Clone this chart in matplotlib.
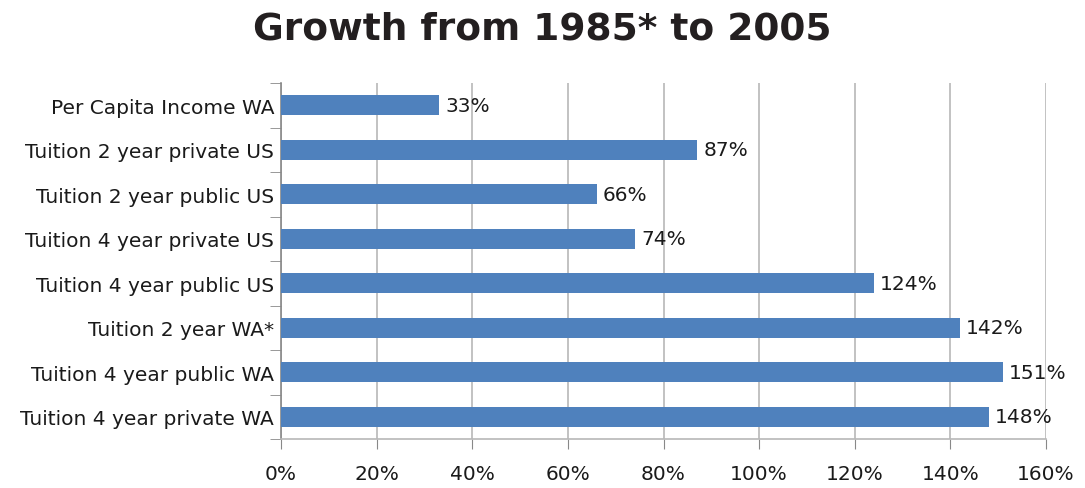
import matplotlib.pyplot as plt
from matplotlib.ticker import FuncFormatter

categories = [
    'Per Capita Income WA',
    'Tuition 2 year private US',
    'Tuition 2 year public US',
    'Tuition 4 year private US',
    'Tuition 4 year public US',
    'Tuition 2 year WA*',
    'Tuition 4 year public WA',
    'Tuition 4 year private WA',
]
growth = [33, 87, 66, 74, 124, 142, 151, 148]
xticks = [0, 20, 40, 60, 80, 100, 120, 140, 160]

fig = plt.figure(figsize=(10.85, 4.89), dpi=100)
ax = fig.add_axes([281 / 1085, 1 - 440 / 489, (1046 - 281) / 1085, (440 - 84) / 489])

# first category at the top
ypos = list(range(len(categories)))[::-1]
ax.barh(ypos, growth, height=0.45, color='#4f81bd', zorder=3)
for y, v in zip(ypos, growth):
    ax.text(v + 1.3, y, f'{v}%', va='center', ha='left', fontsize=14.5,
            color='#1a1a1a', zorder=4)

ax.set_xlim(0, 160)
ax.set_ylim(-0.5, len(categories) - 0.5)
ax.set_xticks(xticks)
ax.xaxis.set_major_formatter(FuncFormatter(lambda v, p: f'{v:.0f}%'))
ax.set_yticks(ypos)
ax.set_yticklabels(categories)
ax.set_yticks([y + 0.5 for y in range(-1, len(categories))], minor=True)
ax.tick_params(axis='y', which='major', length=0, labelsize=14.5, pad=5, labelcolor='#1a1a1a')
ax.tick_params(axis='y', which='minor', length=8, color='#888888')
ax.tick_params(axis='x', length=7, color='#888888', labelsize=14.5, pad=11, labelcolor='#1a1a1a')

ax.grid(axis='x', color='#b8b8b8', linewidth=1.2, zorder=0)
for side in ['top', 'right']:
    ax.spines[side].set_visible(False)
ax.spines['left'].set_color('#888888')
ax.spines['bottom'].set_color('#b8b8b8')
ax.spines['left'].set_linewidth(1.2)
ax.spines['bottom'].set_linewidth(1.2)

fig.text(542 / 1085, 1 - 30 / 489, 'Growth from 1985* to 2005', ha='center', va='center',
         fontsize=27, fontweight='bold', family='DejaVu Sans', color='#231f20')

fig.savefig('out.png', dpi=100)
